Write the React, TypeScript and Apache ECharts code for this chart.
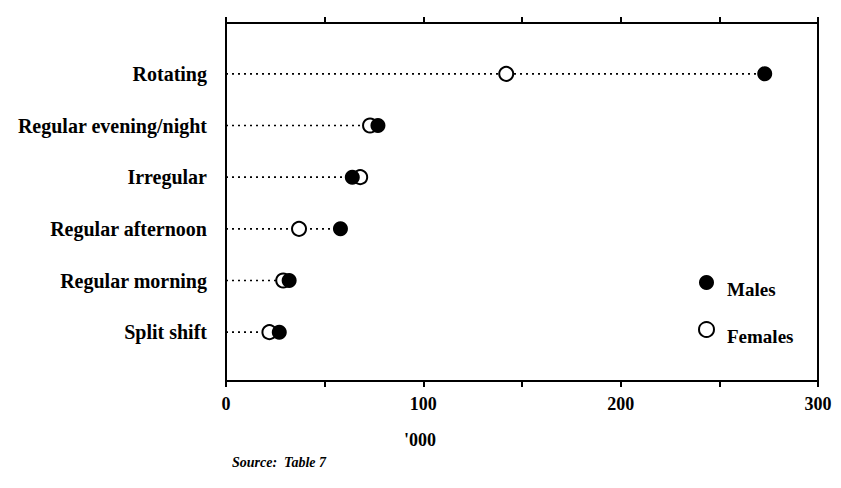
import React, { useEffect, useRef } from "react";
import * as echarts from "echarts";

const categories = [
  "Rotating",
  "Regular evening/night",
  "Irregular",
  "Regular afternoon",
  "Regular morning",
  "Split shift",
];
const males = [273, 77, 64, 58, 32, 27];
const females = [142, 73, 68, 37, 29, 22];
const xTicks = { min: 0, max: 300, interval: 50 };

const FONT = "'Liberation Serif', 'DejaVu Serif', serif";

export default function App() {
  const ref = useRef<HTMLDivElement>(null);
  useEffect(() => {
    if (!ref.current) return;
    const chart = echarts.init(ref.current, null, { renderer: "svg" });
    const lineData = categories.map((c, i) => [Math.max(males[i], females[i]), i]);
    chart.setOption({
      animation: false,
      backgroundColor: "#fff",
      grid: [
        { left: 226, right: 23, top: 23, bottom: 107, show: true, borderColor: "#000", borderWidth: 2, backgroundColor: "transparent" },
        { left: 226, right: 23, top: 48, bottom: 130 },
      ],
      xAxis: [
        {
          gridIndex: 0, type: "value", position: "bottom", ...xTicks,
          axisLine: { show: true, lineStyle: { color: "#000", width: 2 } },
          axisTick: { show: true, length: 6, lineStyle: { color: "#000", width: 2 } },
          splitLine: { show: false },
          axisLabel: {
            margin: 14, color: "#000", fontFamily: FONT, fontWeight: "bold", fontSize: 18,
            formatter: (v: number) => (v % 100 === 0 ? String(v) : ""),
          },
        },
        {
          gridIndex: 0, type: "value", position: "top", ...xTicks,
          axisLine: { show: true, lineStyle: { color: "#000", width: 2 } },
          axisTick: { show: true, length: 6, lineStyle: { color: "#000", width: 2 } },
          splitLine: { show: false },
          axisLabel: { show: false },
        },
        {
          gridIndex: 1, type: "value", ...xTicks, show: false,
        },
      ],
      yAxis: [
        { gridIndex: 0, type: "value", show: false },
        {
          gridIndex: 1, type: "category", data: categories, inverse: true,
          axisLine: { show: false }, axisTick: { show: false }, splitLine: { show: false },
          axisLabel: { margin: 19, color: "#000", fontFamily: FONT, fontWeight: "bold", fontSize: 20, padding: [6, 0, 0, 0] },
        },
      ],
      legend: {
        data: ["Males", "Females"],
        orient: "vertical",
        left: 693,
        top: 270,
        itemGap: 22,
        icon: "circle",
        itemWidth: 15,
        itemHeight: 15,
        itemStyle: { borderWidth: 2 },
        formatter: (name: string) => `{t|${name}}`,
        textStyle: {
          color: "#000",
          rich: {
            t: { fontFamily: FONT, fontWeight: "bold", fontSize: 19, color: "#000", padding: [14, 0, 0, 8] },
          },
        },
      },
      series: [
        {
          type: "custom",
          xAxisIndex: 2,
          yAxisIndex: 1,
          silent: true,
          data: lineData,
          renderItem: (params: any, api: any) => {
            const s = api.coord([0, api.value(1)]);
            const e = api.coord([api.value(0), api.value(1)]);
            return {
              type: "line",
              shape: { x1: s[0], y1: s[1], x2: e[0], y2: e[1] },
              style: { stroke: "#000", lineWidth: 1.6, lineDash: [2, 4] },
            };
          },
        },
        {
          name: "Females",
          type: "scatter",
          xAxisIndex: 2,
          yAxisIndex: 1,
          symbol: "circle",
          symbolSize: 14,
          itemStyle: { color: "#fff", borderColor: "#000", borderWidth: 2, opacity: 1 },
          data: females.map((v, i) => [v, i]),
        },
        {
          name: "Males",
          type: "scatter",
          xAxisIndex: 2,
          yAxisIndex: 1,
          symbol: "circle",
          symbolSize: 15,
          itemStyle: { color: "#000", opacity: 1 },
          data: males.map((v, i) => [v, i]),
        },
      ],
      graphic: [
        {
          type: "text", left: 404, top: 431,
          style: { text: "'000", fill: "#000", font: `bold 18px ${FONT}` },
        },
        {
          type: "text", left: 232, top: 455,
          style: { text: "Source:  Table 7", fill: "#000", font: `italic bold 14px ${FONT}` },
        },
      ],
    });
    return () => chart.dispose();
  }, []);
  return <div ref={ref} style={{ width: 841, height: 488, margin: -8 }} />;
}
